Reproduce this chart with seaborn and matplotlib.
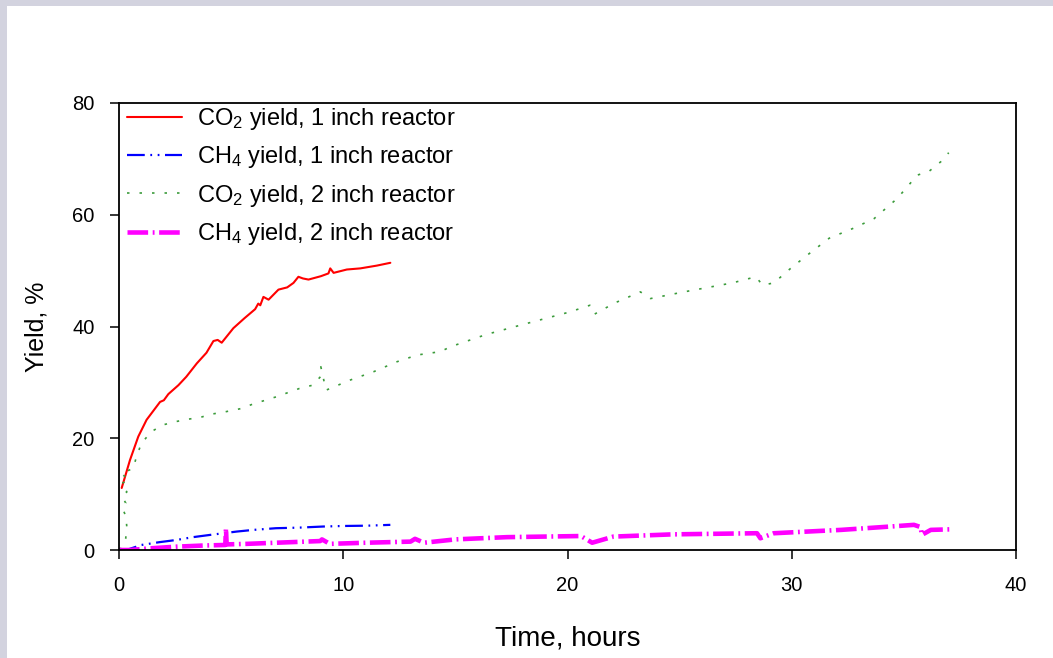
import matplotlib
matplotlib.use("Agg")
import matplotlib.pyplot as plt
import seaborn as sns
from matplotlib.patches import Rectangle

# CO2 yield, 1 inch reactor
co2_1in_time = [0.12, 0.49, 0.86, 1.23, 1.83, 2.0, 2.2, 2.65, 3.0, 3.47, 3.9, 4.21, 4.4,
                4.58, 5.1, 5.6, 6.07, 6.21, 6.3, 6.44, 6.67, 7.11, 7.5, 7.78, 8.0, 8.2,
                8.45, 9.0, 9.34, 9.42, 9.57, 10.16, 10.76, 11.5, 12.1]
co2_1in_yield = [11.1, 16.1, 20.3, 23.3, 26.5, 26.8, 27.9, 29.5, 31.0, 33.4, 35.3, 37.4, 37.6,
                 37.1, 39.7, 41.5, 43.1, 44.1, 43.8, 45.3, 44.8, 46.6, 47.0, 47.8, 48.9, 48.6,
                 48.4, 49.0, 49.5, 50.4, 49.6, 50.2, 50.4, 50.9, 51.4]

# CH4 yield, 1 inch reactor
ch4_1in_time = [0, 0.4, 1.0, 1.8, 2.57, 3.3, 4.06, 5.25, 6.0, 7.0, 8.0, 9.1, 10.0, 11.05, 12.1]
ch4_1in_yield = [0, 0.1, 0.9, 1.4, 1.8, 2.3, 2.7, 3.3, 3.6, 3.9, 4.0, 4.2, 4.3, 4.35, 4.5]

# CO2 yield, 2 inch reactor
co2_2in_time = [0.05, 0.3, 0.35, 0.3, 0.15, 0.3, 0.15, 0.35, 0.1, 0.45, 0.1, 0.63, 0.78, 1.0,
                1.45, 1.97, 2.56, 3.06, 3.6, 4.1, 4.7, 5.43, 5.96, 7.0, 8.04, 8.64, 8.98, 9.0,
                9.1, 9.23, 10.3, 11.35, 12.4, 13.3, 14.33, 14.8, 16.4, 18.05, 20.1, 21.0, 21.2,
                22.1, 23.25, 23.7, 25.2, 27.35, 28.4, 28.7, 29.2, 29.95, 30.7, 31.67, 32.7,
                33.67, 34.7, 35.6, 36.1, 36.65, 37.0]
co2_2in_yield = [0, 2.1, 4.1, 6.1, 7.5, 8.4, 9.5, 10.4, 11.9, 12.5, 13.7, 14.6, 16.7, 19.1,
                 21.2, 22.4, 23.0, 23.4, 23.7, 24.3, 24.7, 25.3, 26.1, 27.4, 28.9, 29.5, 31.0, 32.8,
                 31.0, 28.6, 30.4, 31.9, 33.7, 34.9, 35.5, 36.4, 38.6, 40.4, 42.6, 43.8, 42.2,
                 44.2, 46.2, 45.0, 46.2, 47.8, 48.9, 47.4, 47.8, 50.4, 52.8, 55.8, 57.5,
                 59.3, 62.9, 67.1, 67.7, 69.5, 71.1]

# CH4 yield, 2 inch reactor
ch4_2in_time = [0, 0.5, 1.4, 2.57, 3.76, 4.74, 4.77, 4.8, 5.7, 7.0, 8.97, 9.05, 9.4, 11.0,
                13.0, 13.2, 13.6, 15.0, 17.3, 20.6, 21.1, 22.05, 24.7, 28.45, 28.6, 29.2,
                32.2, 34.4, 35.45, 35.75, 35.8, 36.2, 37.1]
ch4_2in_yield = [0, 0.0, 0.3, 0.6, 0.8, 0.9, 3.9, 1.0, 1.1, 1.3, 1.6, 1.9, 1.1, 1.3,
                 1.5, 2.0, 1.3, 1.9, 2.3, 2.5, 1.3, 2.4, 2.8, 3.0, 2.1, 3.0,
                 3.6, 4.2, 4.5, 4.1, 2.7, 3.6, 3.7]

sns.set_style("ticks")
plt.rcParams["font.family"] = ["Liberation Sans", "DejaVu Sans"]
plt.rcParams["mathtext.default"] = "regular"
plt.rcParams["text.color"] = "black"
plt.rcParams["axes.labelcolor"] = "black"

fig = plt.figure(figsize=(10.53, 6.58), dpi=100)
fig.patch.set_facecolor("#d3d3df")
fig.patches.append(Rectangle((7 / 1053, 0), 1, 1 - 6 / 658, transform=fig.transFigure,
                             facecolor="white", edgecolor="none", zorder=-1))
ax = fig.add_axes([119 / 1053, 1 - 550 / 658, (1016 - 119) / 1053, (550 - 103) / 658])

sns.lineplot(x=co2_1in_time, y=co2_1in_yield, ax=ax, sort=False, estimator=None,
             color="#ff0000", linewidth=1.5, label="CO$_2$ yield, 1 inch reactor")
sns.lineplot(x=ch4_1in_time, y=ch4_1in_yield, ax=ax, sort=False, estimator=None,
             color="#0000ff", linewidth=1.6, linestyle=(0, (8, 2.5, 0.8, 2.5, 0.8, 2.5)),
             label="CH$_4$ yield, 1 inch reactor")
sns.lineplot(x=co2_2in_time, y=co2_2in_yield, ax=ax, sort=False, estimator=None,
             color="#3c9c3c", linewidth=1.2, linestyle=(0, (1.5, 6)),
             label="CO$_2$ yield, 2 inch reactor")
sns.lineplot(x=ch4_2in_time, y=ch4_2in_yield, ax=ax, sort=False, estimator=None,
             color="#ff00ff", linewidth=3.3, linestyle=(0, (4.5, 1.0, 0.4, 1.0)),
             label="CH$_4$ yield, 2 inch reactor")

ax.set_xlim(0, 40)
ax.set_ylim(0, 80)
ax.set_xticks([0, 10, 20, 30, 40])
ax.set_yticks([0, 20, 40, 60, 80])
ax.set_xlabel("Time, hours", fontsize=20, labelpad=22)
ax.set_ylabel("Yield, %", fontsize=18, labelpad=17)
ax.tick_params(axis="both", labelsize=14.5, length=6.5, width=1.1, direction="out",
               color="black", labelcolor="black")
ax.tick_params(axis="x", pad=12)
ax.tick_params(axis="y", pad=11)
for side in ["top", "right", "bottom", "left"]:
    ax.spines[side].set_visible(True)
    ax.spines[side].set_linewidth(1.3)
    ax.spines[side].set_color("black")

ax.legend(loc="upper left", frameon=False, fontsize=17, handlelength=2.33,
          handletextpad=0.64, labelspacing=0.52, borderaxespad=0, borderpad=0,
          bbox_to_anchor=(8 / 897, 1.0 - 3 / 447))

fig.savefig("out.png", dpi=100, facecolor=fig.get_facecolor())
